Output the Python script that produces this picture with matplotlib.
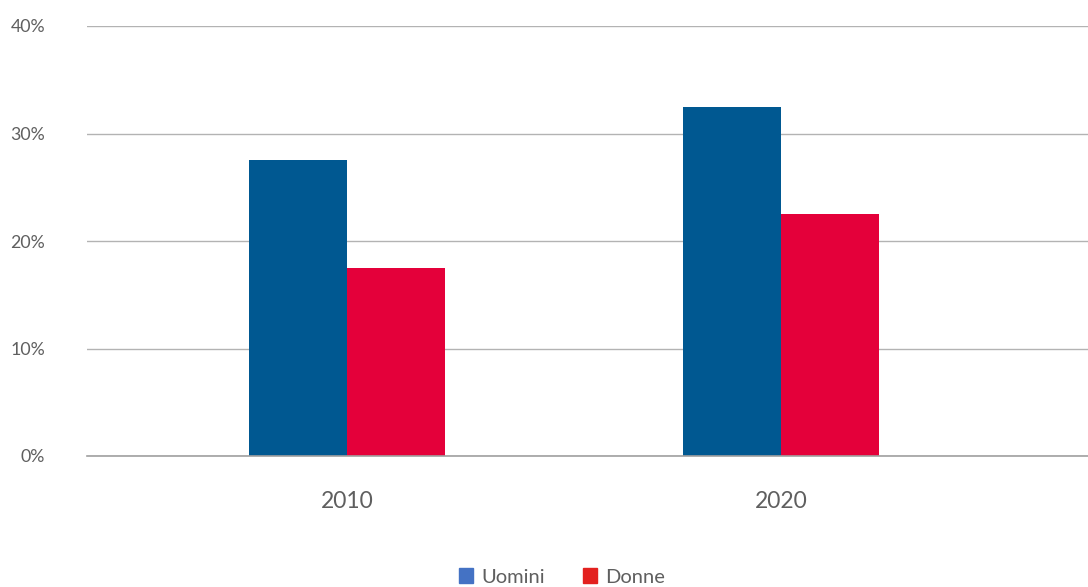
import matplotlib
matplotlib.use("Agg")
import matplotlib.pyplot as plt
from matplotlib.patches import Patch
import numpy as np

plt.rcParams['font.family'] = ['Lato', 'DejaVu Sans']

years = ["2010", "2020"]
uomini = [27.5, 32.5]
donne = [17.5, 22.5]
series_names = ["Uomini", "Donne"]
yticks = [0, 10, 20, 30, 40]

bar_blue = "#005891"
bar_red = "#E4003A"
leg_blue = "#4472C4"
leg_red = "#E3211F"
text_col = "#5F5F5F"

fig = plt.figure(figsize=(10.88, 5.87), dpi=100)
ax = fig.add_axes([87/1088, 1 - 456/587, 1 - 87/1088, (456 - 26)/587])

x = np.arange(len(years))
w = 0.226
ax.bar(x - w/2, uomini, w, color=bar_blue, zorder=3)
ax.bar(x + w/2, donne, w, color=bar_red, zorder=3)

ax.set_xlim(-0.599, 1.707)
ax.set_ylim(0, 40)
ax.set_yticks(yticks)
ax.set_yticklabels([f"{v}%" for v in yticks])
ax.set_xticks(x)
ax.set_xticklabels(years)
ax.grid(axis='y', color="#B3B3B3", linewidth=1, zorder=0)
ax.axhline(0, color="#A0A0A0", linewidth=1.2, zorder=4, clip_on=False)
for s in ax.spines.values():
    s.set_visible(False)
ax.tick_params(axis='y', length=0, pad=30, labelsize=12.8, labelcolor=text_col)
ax.tick_params(axis='x', length=0, pad=25, labelsize=16.5, labelcolor=text_col)

handles = [Patch(color=leg_blue, label=series_names[0]),
           Patch(color=leg_red, label=series_names[1])]
fig.legend(handles=handles, loc='center', bbox_to_anchor=(562/1088, 1 - 577/587),
           ncol=2, frameon=False, fontsize=14.5, labelcolor=text_col,
           handlelength=0.7, handleheight=0.7, handletextpad=0.4, columnspacing=1.9)

fig.savefig("out.png", dpi=100)
